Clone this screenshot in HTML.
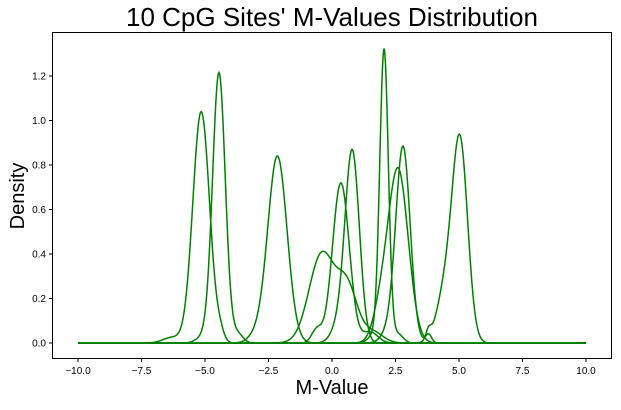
<!DOCTYPE html>
<html><head><meta charset="utf-8"><style>
body{margin:0;background:#fff;width:621px;height:405px;overflow:hidden;font-family:"Liberation Sans",sans-serif}
</style></head><body>
<svg id="chart" width="621" height="405" xmlns="http://www.w3.org/2000/svg">
<text x="332" y="26" font-size="26" text-anchor="middle" font-family="Liberation Sans">10 CpG Sites' M-Values Distribution</text>
<rect x="52.5" y="32.5" width="559" height="326" fill="none" stroke="#000" stroke-width="1"/>
<g id="xt"></g><g id="yt"></g><g id="lines"></g>
<text x="332" y="394" font-size="20" text-anchor="middle">M-Value</text>
<text x="24" y="196" font-size="20" text-anchor="middle" transform="rotate(-90 24 196)">Density</text>
</svg>
<script>
// each site: gaussian components [mean], [sd], [peak height]
const siteMeans=[[-5.15,-6.3,-4.4],[-4.45,-5.0,-3.7],[-2.15,-3.0],[-0.4,0.6,1.6],[0.35,-0.6,1.5],[0.8,0.3],[2.05,1.6,2.6],[2.8,3.8,2.3],[2.6,1.9],[5.05,4.5,3.8]];
const siteSds=[[0.33,0.35,0.15],[0.25,0.3,0.2],[0.38,0.3],[0.5,0.4,0.4],[0.33,0.2,0.3],[0.28,0.3],[0.17,0.2,0.2],[0.28,0.12,0.3],[0.4,0.3],[0.3,0.35,0.1]];
const sitePeaks=[[1.04,0.025,0.035],[1.21,0.03,0.04],[0.84,0.03],[0.40,0.24,0.05],[0.72,0.06,0.05],[0.85,0.08],[1.32,0.03,0.04],[0.87,0.04,0.06],[0.78,0.12],[0.86,0.25,0.04]];
const xTicks=[-10,-7.5,-5,-2.5,0,2.5,5,7.5,10];
const yTicks=[0,0.2,0.4,0.6,0.8,1.0,1.2];
const X=v=>332+v*25.4, Y=v=>343-v*222.5;
const ns="http://www.w3.org/2000/svg";
const xt=document.getElementById('xt'),yt=document.getElementById('yt'),lg=document.getElementById('lines');
xTicks.forEach(t=>{
 const l=document.createElementNS(ns,'line');
 
 
 l.setAttribute('x1',X(t));l.setAttribute('x2',X(t));l.setAttribute('y1',358.5);l.setAttribute('y2',362);l.setAttribute('stroke','#000');xt.appendChild(l);
 const tx=document.createElementNS(ns,'text');
 
 
 tx.setAttribute('x',X(t));tx.setAttribute('y',374);tx.setAttribute('font-size','10');tx.setAttribute('text-anchor','middle');
 tx.textContent=(t<0?'\u2212':'')+Math.abs(t).toFixed(1);xt.appendChild(tx);
});
yTicks.forEach(t=>{
 const l=document.createElementNS(ns,'line');
 
 
 l.setAttribute('x1',49);l.setAttribute('x2',52.5);l.setAttribute('y1',Y(t));l.setAttribute('y2',Y(t));l.setAttribute('stroke','#000');yt.appendChild(l);
 const tx=document.createElementNS(ns,'text');
 
 
 tx.setAttribute('x',46);tx.setAttribute('y',Y(t)+3.5);tx.setAttribute('font-size','10');tx.setAttribute('text-anchor','end');
 tx.textContent=t.toFixed(1);yt.appendChild(tx);
});
siteMeans.forEach((ms,i)=>{
 let d='';
 for(let k=0;k<=800;k++){
  const x=-10+k*20/800;let y=0;
  ms.forEach((m,j)=>{y+=sitePeaks[i][j]*Math.exp(-0.5*((x-m)/siteSds[i][j])**2);});
  d+=(k?'L':'M')+X(x).toFixed(2)+' '+Y(y).toFixed(2);
 }
 const p=document.createElementNS(ns,'path');
 
 
 p.setAttribute('d',d);p.setAttribute('fill','none');p.setAttribute('stroke','#008000');p.setAttribute('stroke-width','1.5');
 lg.appendChild(p);
});
</script>
</body></html>
